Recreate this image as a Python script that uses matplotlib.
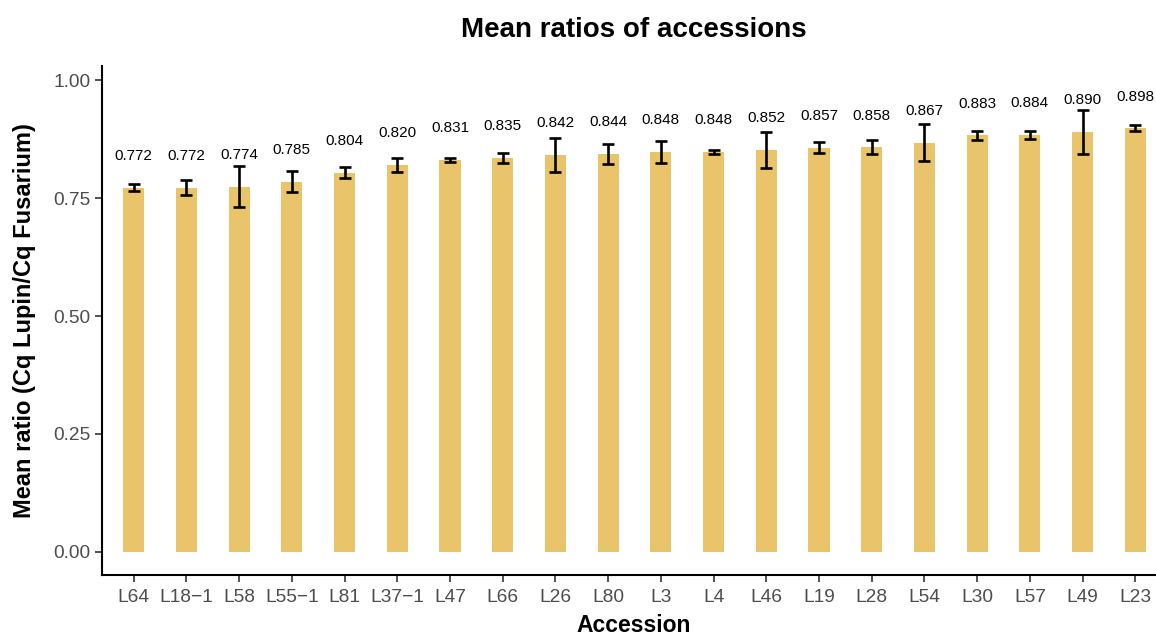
import numpy as np
import matplotlib
matplotlib.use("Agg")
import matplotlib.pyplot as plt

plt.rcParams['font.family'] = ['Liberation Sans', 'DejaVu Sans']

accessions = ["L64", "L18\u22121", "L58", "L55\u22121", "L81", "L37\u22121", "L47", "L66", "L26", "L80",
              "L3", "L4", "L46", "L19", "L28", "L54", "L30", "L57", "L49", "L23"]
mean_ratio = [0.772, 0.772, 0.774, 0.785, 0.804, 0.820, 0.831, 0.835, 0.842, 0.844,
              0.848, 0.848, 0.852, 0.857, 0.858, 0.867, 0.883, 0.884, 0.890, 0.898]
se_ratio = [0.008, 0.0155, 0.043, 0.0215, 0.0124, 0.0145, 0.0035, 0.011, 0.036, 0.021,
            0.0226, 0.0042, 0.038, 0.0113, 0.0155, 0.039, 0.0099, 0.0081, 0.046, 0.0064]
yticks = [0.00, 0.25, 0.50, 0.75, 1.00]

fig = plt.figure(figsize=(11.56, 6.37), dpi=100)
ax = fig.add_axes([102 / 1156, 1 - 575 / 637, 1065 / 1156, 509 / 637])

x = np.arange(1, len(accessions) + 1)
ax.bar(x, mean_ratio, width=0.4, color="#E9C46A", zorder=1)
ax.errorbar(x, mean_ratio, yerr=se_ratio, fmt="none", ecolor="black",
            elinewidth=1.9, capsize=4, capthick=1.9, zorder=2)
for xi, m in zip(x, mean_ratio):
    ax.text(xi, m + 0.067, f"{m:.3f}", ha="center", va="center", fontsize=11, color="black")

ax.set_xlim(0.4, len(accessions) + 0.6)
ax.set_ylim(-0.049, 1.03)
ax.set_xticks(x)
ax.set_xticklabels(accessions)
ax.set_yticks(yticks)
ax.set_yticklabels([f"{v:.2f}" for v in yticks])
ax.tick_params(axis="both", colors="#333333", labelcolor="#4D4D4D", labelsize=13.8,
               length=5, width=1.2)
ax.tick_params(axis="x", pad=5)

for side in ["top", "right"]:
    ax.spines[side].set_visible(False)
for side in ["left", "bottom"]:
    ax.spines[side].set_linewidth(1.5)
    ax.spines[side].set_color("black")

ax.set_ylabel("Mean ratio (Cq Lupin/Cq Fusarium)", fontsize=17, fontweight="bold", labelpad=12)
fig.text(634 / 1156, 1 - 626 / 637, "Accession", ha="center", va="center",
         fontsize=16.5, fontweight="bold")
fig.text(634 / 1156, 1 - 30 / 637, "Mean ratios of accessions", ha="center", va="center",
         fontsize=20, fontweight="bold")

fig.savefig("out.png", dpi=100)
